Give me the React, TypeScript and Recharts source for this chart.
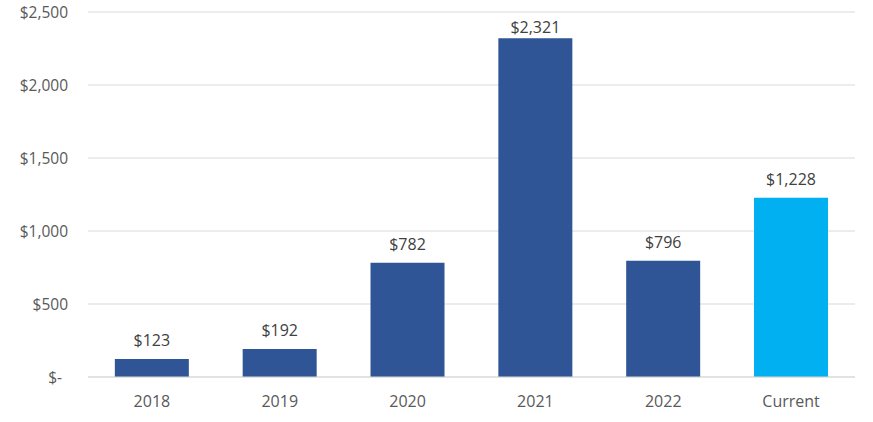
import React from "react";
import { BarChart, Bar, XAxis, YAxis, CartesianGrid, LabelList, Cell } from "recharts";

const categories = ["2018", "2019", "2020", "2021", "2022", "Current"];
const values = [123, 192, 782, 2321, 796, 1228];
const barColors = ["#2F5597", "#2F5597", "#2F5597", "#2F5597", "#2F5597", "#00B0F0"];
const yTicks = [0, 500, 1000, 1500, 2000, 2500];

const data = categories.map((c, i) => ({ name: c, value: values[i] }));

const fmtMoney = (v: number) => (v === 0 ? "$-" : "$" + v.toLocaleString("en-US"));

const FONT = "'Open Sans', sans-serif";

const ValueLabel = (props: any) => {
  const { x, y, width, value } = props;
  const baseline = Math.max(y - 13, 33);
  return (
    <text
      x={x + width / 2}
      y={baseline}
      textAnchor="middle"
      fill="#404040"
      fontSize={16}
      fontFamily={FONT}
    >
      {fmtMoney(value)}
    </text>
  );
};

const YTick = (props: any) => {
  const { x, y, payload } = props;
  const v = payload.value;
  return (
    <text
      x={v === 0 ? x - 6 : x}
      y={y}
      dy="0.355em"
      textAnchor="end"
      fill="#595959"
      fontSize={15.5}
      fontFamily={FONT}
    >
      {fmtMoney(v)}
    </text>
  );
};

export default function App() {
  return (
    <div style={{ position: "absolute", left: 0, top: 0, width: 873, height: 422, background: "#fff" }}>
      <BarChart
        width={873}
        height={422}
        data={data}
        margin={{ top: 12, right: 18, left: 0, bottom: 15 }}
        barCategoryGap="21%"
      >
        <CartesianGrid vertical={false} stroke="#d9d9d9" strokeWidth={1} />
        <XAxis
          dataKey="name"
          axisLine={{ stroke: "#d9d9d9" }}
          tickLine={false}
          height={30}
          tickMargin={13}
          tick={{ fill: "#595959", fontSize: 16, fontFamily: FONT }}
        />
        <YAxis
          width={88}
          domain={[0, 2500]}
          ticks={yTicks}
          axisLine={false}
          tickLine={false}
          tickMargin={14}
          tick={YTick}
        />
        <Bar dataKey="value" isAnimationActive={false}>
          {data.map((d, i) => (
            <Cell key={d.name} fill={barColors[i]} />
          ))}
          <LabelList dataKey="value" content={ValueLabel} />
        </Bar>
      </BarChart>
    </div>
  );
}
